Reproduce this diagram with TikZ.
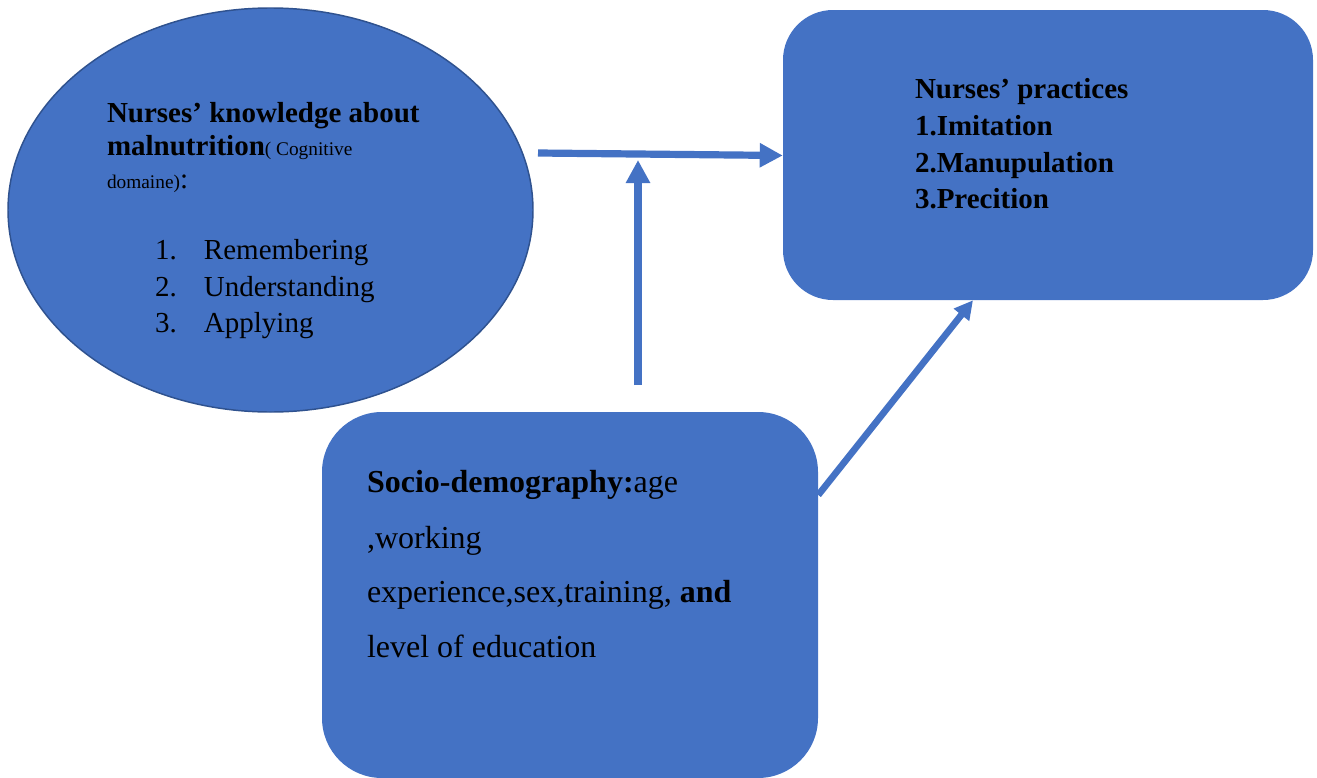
\documentclass[tikz,border=0pt]{standalone}
\usepackage{fontspec}
\setmainfont{Liberation Serif}
\usetikzlibrary{arrows.meta,shapes.geometric}
\definecolor{boxblue}{HTML}{4472C4}
\definecolor{edgeblue}{HTML}{2F528F}
\tikzset{
  big/.style={font=\fontsize{21.75}{26}\selectfont},
  bigger/.style={font=\fontsize{24}{29}\selectfont},
  txt/.style={anchor=base west, inner sep=0pt, outer sep=0pt, text=black, big},
  stxt/.style={txt, bigger},
  conn/.style={draw=boxblue, line width=5.4pt,
    -{Triangle[length=17.25pt,width=17.25pt]}},
  conns/.style={draw=boxblue, line width=5pt,
    -{Triangle[length=14pt,width=14pt]}},
}
\newcommand{\smalltxt}[1]{{\fontsize{14.5}{17}\selectfont #1}}
\begin{document}
\begin{tikzpicture}[x=0.75pt,y=-0.75pt]
\useasboundingbox (0,0) rectangle (1317,778);
% shapes
\node[ellipse, draw=edgeblue, line width=1.1pt, fill=boxblue, inner sep=0pt,
      minimum width=393.75pt, minimum height=303pt] (ell) at (270.5,210) {};
\node[rectangle, fill=boxblue, rounded corners=37.5pt, inner sep=0pt,
      minimum width=397.5pt, minimum height=217.5pt] (prac) at (1048,155) {};
\node[rectangle, fill=boxblue, rounded corners=45pt, inner sep=0pt,
      minimum width=372pt, minimum height=274.5pt] (socio) at (570,595) {};
% ellipse text
\node[txt] (k1) at (107,122) {\textbf{Nurses’ knowledge about}};
\node[txt] (k2) at (107,155) {\textbf{malnutrition}\smalltxt{( Cognitive}};
\node[txt] (k3) at (107,188) {\smalltxt{domaine)}:};
\node[txt] (l1) at (155,259) {\makebox[36.75pt][l]{1.}Remembering};
\node[txt] (l2) at (155,296) {\makebox[36.75pt][l]{2.}Understanding};
\node[txt] (l3) at (155,332) {\makebox[36.75pt][l]{3.}Applying};
% practices text
\node[txt] (p1) at (915,98)  {\textbf{Nurses’ practices}};
\node[txt] (p2) at (915,135) {\textbf{1.Imitation}};
\node[txt] (p3) at (915,172) {\textbf{2.Manupulation}};
\node[txt] (p4) at (915,208) {\textbf{3.Precition}};
% socio text
\node[stxt] (s1) at (367,492) {\textbf{Socio-demography:}age};
\node[stxt] (s2) at (367,548) {,working};
\node[stxt] (s3) at (367,602) {experience,sex,training, \textbf{and}};
\node[stxt] (s4) at (367,657) {level of education};
% connectors
\coordinate (hs) at (538,153);
\coordinate (he) at (prac.west |- 0,155.5);
\coordinate (vs) at (638,385);
\coordinate (ve) at (638,160);
\coordinate (ds) at (socio.east |- 0,495);
\coordinate (de) at (prac.south -| 973,0);
\draw[conn] (hs) -- (he);
\draw[conn] (vs) -- (ve);
\draw[conns] (ds) -- (de);
\end{tikzpicture}
\end{document}
